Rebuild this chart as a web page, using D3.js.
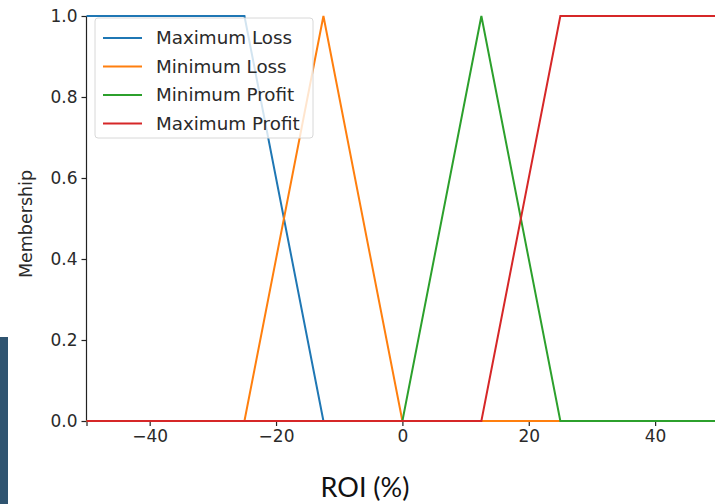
<!DOCTYPE html>
<html>
<head>
<meta charset="utf-8">
<script src="https://cdn.jsdelivr.net/npm/d3@7"></script>
<style>
  html, body { margin: 0; padding: 0; background: #fff; }
  svg { display: block; }
</style>
</head>
<body>
<script>
// data
const roi = [-50, -25, -12.5, 0, 12.5, 25, 50];
const seriesNames = ["Maximum Loss", "Minimum Loss", "Minimum Profit", "Maximum Profit"];
const maxLoss = [1, 1, 0, 0, 0, 0, 0];
const minLoss = [0, 0, 1, 0, 0, 0, 0];
const minProfit = [0, 0, 0, 0, 1, 0, 0];
const maxProfit = [0, 0, 0, 0, 0, 1, 1];
const colors = ["#1f77b4", "#ff7f0e", "#2ca02c", "#d62728"];
const xTicks = [-40, -20, 0, 20, 40];
const yTicks = [0, 0.2, 0.4, 0.6, 0.8, 1.0];

const W = 715, H = 504;
const svg = d3.select("body").append("svg").attr("width", W).attr("height", H);

const x = d3.scaleLinear().domain([-50, 50]).range([86.5, 718.3]);
const y = d3.scaleLinear().domain([0, 1]).range([421, 16]);

// dark slide strip at left
svg.append("rect").attr("x", 0).attr("y", 337).attr("width", 8).attr("height", 167).attr("fill", "#2f5470");

const font = "'DejaVu Sans', sans-serif";

// axes
const xAxis = svg.append("g").attr("transform", `translate(0,${y(0)})`)
  .call(d3.axisBottom(x).tickValues(xTicks).tickSize(5).tickPadding(4).tickFormat(d3.format("d")));
const yAxis = svg.append("g").attr("transform", `translate(${x(-50)},0)`)
  .call(d3.axisLeft(y).tickValues(yTicks).tickSize(5).tickPadding(4).tickFormat(d3.format(".1f")));
[xAxis, yAxis].forEach(g => {
  g.selectAll("path.domain").attr("stroke", "#222").attr("stroke-width", 1.2);
  g.selectAll(".tick line").attr("stroke", "#222").attr("stroke-width", 1.2);
  g.selectAll(".tick text").attr("fill", "#2a2a2a").style("font-family", font).style("font-size", "17px");
});
yAxis.select("path.domain").attr("d", `M0,${y(0)}V${y(1)}`);

// series
const series = [maxLoss, minLoss, minProfit, maxProfit].map((vals, i) => ({
  name: seriesNames[i], color: colors[i], pts: roi.map((r, j) => [r, vals[j]])
}));
const line = d3.line().x(d => x(d[0])).y(d => y(d[1]));
svg.append("g").selectAll("path").data(series).enter().append("path")
  .attr("d", d => line(d.pts))
  .attr("fill", "none")
  .attr("stroke", d => d.color)
  .attr("stroke-width", 2);

// legend
const lg = svg.append("g");
lg.append("rect").attr("x", 95).attr("y", 18).attr("width", 218).attr("height", 120)
  .attr("rx", 3).attr("fill", "#fff").attr("fill-opacity", 0.8)
  .attr("stroke", "#d8d8d8").attr("stroke-width", 1);
const item = lg.selectAll(".item").data(series).enter().append("g").attr("class", "item")
  .attr("transform", (d, i) => `translate(0,${38 + i * 28.5})`);
item.append("line").attr("x1", 103).attr("x2", 142).attr("y1", 0).attr("y2", 0)
  .attr("stroke", d => d.color).attr("stroke-width", 2);
item.append("text").attr("x", 156).attr("y", 0).attr("dy", "0.35em")
  .style("font-family", font).style("font-size", "18.3px").attr("fill", "#2a2a2a")
  .text(d => d.name);

// axis labels
svg.append("text").attr("transform", "translate(26,224) rotate(-90)")
  .attr("text-anchor", "middle").attr("dy", "0.35em")
  .style("font-family", font).style("font-size", "17.5px").attr("fill", "#2a2a2a")
  .text("Membership");
svg.append("text").attr("x", 365).attr("y", 497).attr("text-anchor", "middle")
  .style("font-family", "Lato, 'Open Sans', sans-serif").style("font-size", "27px").attr("fill", "#111")
  .text("ROI (%)");
</script>
</body>
</html>
